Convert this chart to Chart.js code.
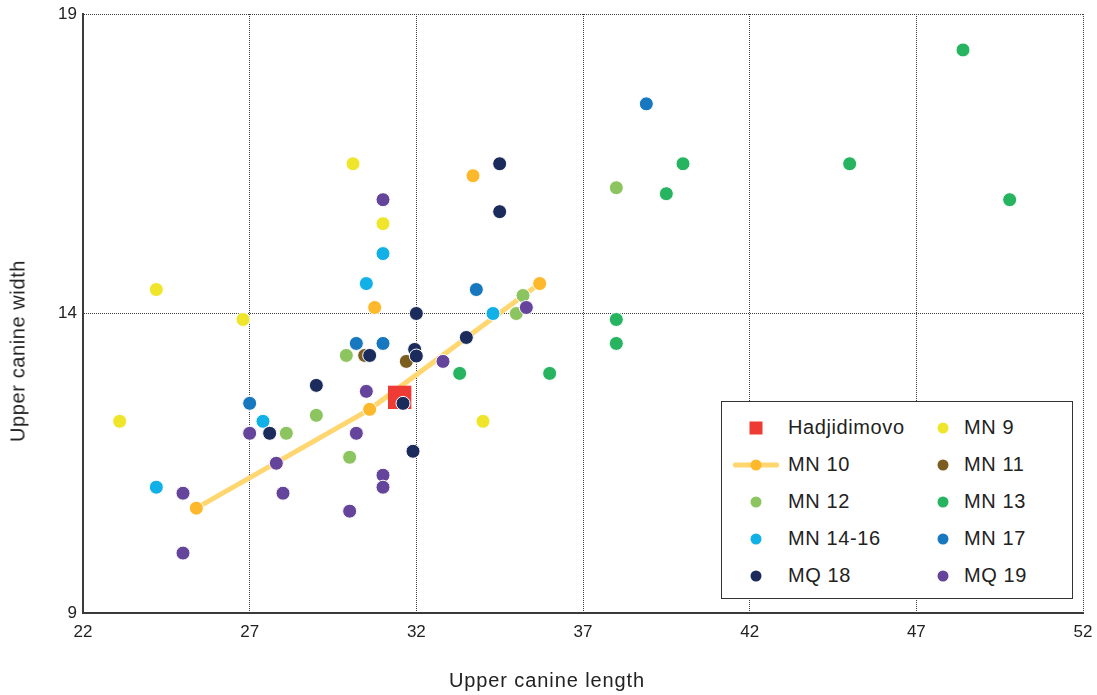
<!DOCTYPE html>
<html>
<head>
<meta charset="utf-8">
<script src="https://cdn.jsdelivr.net/npm/chart.js@4"></script>
<style>
  body { margin: 0; background: #fff; font-family: "Liberation Sans", Arial, sans-serif; }
  #wrap { position: relative; width: 1097px; height: 695px; }
  .axis-title { position: absolute; font-size: 20px; color: #222; white-space: nowrap; }
  #xTitle { left: 547px; top: 680px; transform: translate(-50%, -50%); letter-spacing: 0.9px; }
  #yTitle { left: 18px; top: 351px; transform: translate(-50%, -50%) rotate(-90deg); letter-spacing: 0.6px; }
  #legend { position: absolute; left: 721px; top: 401px; width: 350px; height: 196px;
            border: 1px solid #333; background: #fff; }
  .item { position: absolute; height: 37px; display: flex; align-items: center;
          font-size: 20px; letter-spacing: 0.6px; color: #222; }
  .mark { position: absolute; top: 50%; transform: translate(-50%, -50%); }
</style>
</head>
<body>
<div id="wrap">
  <canvas id="scatterChart" width="1097" height="695"></canvas>
  <div id="xTitle" class="axis-title">Upper canine length</div>
  <div id="yTitle" class="axis-title">Upper canine width</div>
  <div id="legend"></div>
</div>
<script>
// x = upper canine length, y = upper canine width
const hadjidimovo = [[31.5, 12.6]];
const mn9 = [[30.1, 16.5], [31.0, 15.5], [24.2, 14.4], [26.8, 13.9], [23.1, 12.2], [34.0, 12.2]];
const mn10 = [[33.7, 16.3], [30.75, 14.1], [35.7, 14.5], [30.6, 12.4], [25.4, 10.75]];
const mn10Line = [[25.4, 10.75], [30.6, 12.4], [35.7, 14.5]];
const mn11 = [[30.45, 13.3], [31.7, 13.2]];
const mn12 = [[38.0, 16.1], [29.9, 13.3], [35.2, 14.3], [35.0, 14.0], [29.0, 12.3], [28.1, 12.0], [30.0, 11.6]];
const mn13 = [[48.4, 18.4], [40.0, 16.5], [45.0, 16.5], [39.5, 16.0], [49.8, 15.9], [38.0, 13.9],
              [38.0, 13.5], [33.3, 13.0], [36.0, 13.0]];
const mn1416 = [[31.0, 15.0], [30.5, 14.5], [34.3, 14.0], [27.4, 12.2], [24.2, 11.1]];
const mn17 = [[38.9, 17.5], [33.8, 14.4], [30.2, 13.5], [31.0, 13.5], [27.0, 12.5]];
const mq18 = [[34.5, 16.5], [34.5, 15.7], [32.0, 14.0], [33.5, 13.6], [31.95, 13.4], [32.0, 13.29],
              [30.6, 13.3], [29.0, 12.8], [31.6, 12.5], [27.6, 12.0], [31.9, 11.7]];
const mq19 = [[31.0, 15.9], [35.3, 14.1], [32.8, 13.2], [30.5, 12.7], [27.0, 12.0], [30.2, 12.0],
              [27.8, 11.5], [31.0, 11.3], [31.0, 11.1], [25.0, 11.0], [28.0, 11.0], [30.0, 10.7], [25.0, 10.0]];

const xTicks = [22, 27, 32, 37, 42, 47, 52];
const yTicks = [9, 14, 19];

const series = [
    { name: 'Hadjidimovo', data: hadjidimovo, color: '#EE3B34', style: 'rect' },
    { name: 'MN 9', data: mn9, color: '#EFE62C', style: 'circle' },
    { name: 'MN 10', data: mn10, color: '#FDB92B', style: 'circle', line: true },
    { name: 'MN 11', data: mn11, color: '#7B5D1F', style: 'circle' },
    { name: 'MN 12', data: mn12, color: '#8CC560', style: 'circle' },
    { name: 'MN 13', data: mn13, color: '#26B460', style: 'circle' },
    { name: 'MN 14-16', data: mn1416, color: '#11B0E6', style: 'circle' },
    { name: 'MN 17', data: mn17, color: '#1777BF', style: 'circle' },
    { name: 'MQ 18', data: mq18, color: '#1B2C5C', style: 'circle' },
    { name: 'MQ 19', data: mq19, color: '#65459B', style: 'circle' }
];
const lineColor = '#FFD66F';

const toPoints = arr => arr.map(p => ({ x: p[0], y: p[1] }));

const datasets = [{
    label: 'MN 10 line',
    data: toPoints(mn10Line),
    showLine: true,
    borderColor: lineColor,
    borderWidth: 5,
    pointRadius: 0,
    order: 20
}];
series.forEach((s, i) => {
    datasets.push({
        label: s.name,
        data: toPoints(s.data),
        pointStyle: s.style,
        pointRadius: s.style === 'rect' ? 16.5 : 7,
        backgroundColor: s.color,
        borderColor: s.style === 'rect' ? s.color : '#fff',
        borderWidth: s.style === 'rect' ? 0 : 1,
        order: series.length - i
    });
});

// keep the plot box fixed, ignore label overhang padding
function noPad(axis) {
    axis.paddingLeft = 0; axis.paddingRight = 0;
    axis.paddingTop = 0; axis.paddingBottom = 0;
}

new Chart(document.getElementById('scatterChart'), {
    type: 'scatter',
    data: { datasets: datasets },
    options: {
        responsive: false,
        devicePixelRatio: 1,
        animation: false,
        events: [],
        layout: { autoPadding: false, padding: { top: 14, right: 14, left: 0, bottom: 0 } },
        plugins: { legend: { display: false }, tooltip: { enabled: false } },
        scales: {
            x: {
                type: 'linear',
                min: 22, max: 52,
                afterBuildTicks: axis => { axis.ticks = xTicks.map(v => ({ value: v })); },
                afterFit: axis => { axis.height = 82; noPad(axis); },
                grid: { color: '#3a3a3a', lineWidth: 1, drawTicks: false },
                border: { display: true, color: '#3a3a3a', width: 2, dash: [1, 1] },
                ticks: { color: '#222', padding: 9, font: { size: 17, family: 'Liberation Sans' } }
            },
            y: {
                type: 'linear',
                min: 9, max: 19,
                afterBuildTicks: axis => { axis.ticks = yTicks.map(v => ({ value: v })); },
                afterFit: axis => { axis.width = 83; noPad(axis); },
                grid: { color: '#3a3a3a', lineWidth: 1, drawTicks: false },
                border: { display: true, color: '#3a3a3a', width: 2, dash: [1, 1] },
                ticks: { color: '#222', padding: 6, font: { size: 17, family: 'Liberation Sans' } }
            }
        }
    }
});

// legend built from the same series list
const legend = document.getElementById('legend');
series.forEach((s, i) => {
    const col = i % 2, row = Math.floor(i / 2);
    const item = document.createElement('div');
    item.className = 'item';
    item.style.top = (7 + row * 37) + 'px';
    item.style.left = (col === 0 ? 66 : 242) + 'px';
    item.textContent = s.name;
    const markX = (col === 0 ? 34 : 221) - (col === 0 ? 66 : 242);
    if (s.line) {
        const ln = document.createElement('span');
        ln.className = 'mark';
        ln.style.cssText += `left:${markX - 23}px;width:46px;height:5px;border-radius:2px;background:${lineColor};transform:translate(0,-50%);`;
        item.appendChild(ln);
    }
    const mk = document.createElement('span');
    mk.className = 'mark';
    const sz = s.style === 'rect' ? 13 : 11;
    mk.style.cssText += `left:${markX}px;width:${sz}px;height:${sz}px;background:${s.color};` +
        (s.style === 'rect' ? '' : 'border-radius:50%;');
    item.appendChild(mk);
    legend.appendChild(item);
});
</script>
</body>
</html>
